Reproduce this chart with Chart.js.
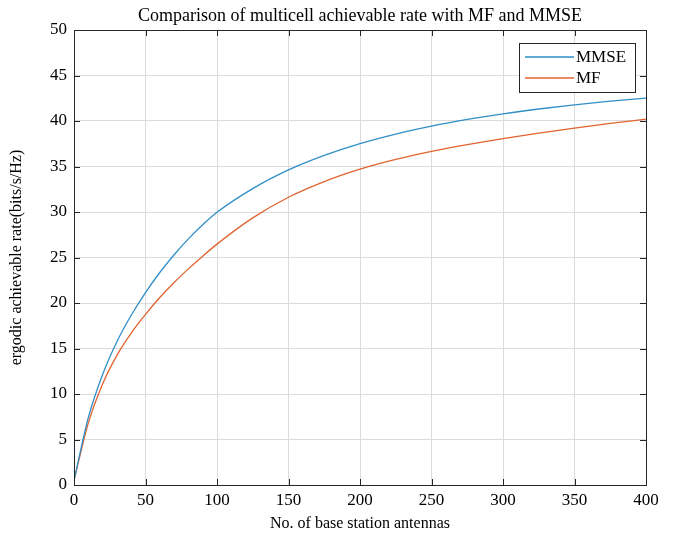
<!DOCTYPE html>
<html>
<head>
<meta charset="utf-8">
<script src="https://cdn.jsdelivr.net/npm/chart.js@4/dist/chart.umd.min.js"></script>
<style>
  html, body { margin: 0; padding: 0; background: #fff; }
  #wrap { width: 673px; height: 535px; }
</style>
</head>
<body>
<div id="wrap"><canvas id="chart" width="673" height="535"></canvas></div>
<script>
// datos
const antenas = [0, 10, 20, 30, 40, 50, 60, 70, 80, 90, 100, 125, 150, 175, 200, 225, 250, 275, 300, 325, 350, 375, 400]
const tasaMMSE = [0.5, 7.4, 12.15, 15.75, 18.65, 21.15, 23.35, 25.3, 27.05, 28.6, 29.97, 32.57, 34.62, 36.22, 37.52, 38.57, 39.44, 40.17, 40.79, 41.32, 41.78, 42.18, 42.52]
const tasaMF = [0.5, 6.8, 11.1, 14.25, 16.7, 18.75, 20.6, 22.25, 23.75, 25.15, 26.47, 29.35, 31.62, 33.34, 34.7, 35.77, 36.65, 37.4, 38.06, 38.66, 39.21, 39.73, 40.2]
const ticksX = [0, 50, 100, 150, 200, 250, 300, 350, 400]
const ticksY = [0, 5, 10, 15, 20, 25, 30, 35, 40, 45, 50]
const titulo = "Comparison of multicell achievable rate with MF and MMSE"

const fuente = "'Liberation Serif', 'Times New Roman', serif"

function puntos(xs, ys) {
    return xs.map((x, i) => ({ x: x, y: ys[i] }))
}

// marco, ticks hacia dentro, titulo y leyenda estilo MATLAB
const estiloMatlab = {
    id: 'estiloMatlab',
    afterDraw(chart) {
        const ctx = chart.ctx
        const a = chart.chartArea
        const sx = chart.scales.x
        const sy = chart.scales.y
        ctx.save()
        ctx.strokeStyle = '#262626'
        ctx.lineWidth = 1
        ctx.strokeRect(a.left + 0.5, a.top + 0.5, a.right - a.left, a.bottom - a.top)
        ctx.beginPath()
        ticksX.forEach((v) => {
            const px = Math.round(sx.getPixelForValue(v)) + 0.5
            ctx.moveTo(px, a.bottom); ctx.lineTo(px, a.bottom - 6)
            ctx.moveTo(px, a.top); ctx.lineTo(px, a.top + 6)
        })
        ticksY.forEach((v) => {
            const py = Math.round(sy.getPixelForValue(v)) + 0.5
            ctx.moveTo(a.left, py); ctx.lineTo(a.left + 6, py)
            ctx.moveTo(a.right, py); ctx.lineTo(a.right - 6, py)
        })
        ctx.stroke()

        // titulo
        ctx.fillStyle = '#000'
        ctx.font = "18px " + fuente
        ctx.textAlign = 'center'
        ctx.textBaseline = 'alphabetic'
        ctx.fillText(titulo, (a.left + a.right) / 2, 21)

        // leyenda
        const lx = 519, ly = 43, lw = 116, lh = 49
        ctx.fillStyle = '#fff'
        ctx.fillRect(lx, ly, lw, lh)
        ctx.strokeStyle = '#262626'
        ctx.strokeRect(lx + 0.5, ly + 0.5, lw, lh)
        ctx.font = "17px " + fuente
        ctx.textAlign = 'left'
        ctx.textBaseline = 'middle'
        chart.data.datasets.forEach((ds, i) => {
            const yy = ly + 14 + i * 21
            ctx.strokeStyle = ds.borderColor
            ctx.lineWidth = 1.3
            ctx.beginPath()
            ctx.moveTo(lx + 6, yy); ctx.lineTo(lx + 55, yy)
            ctx.stroke()
            ctx.fillStyle = '#000'
            ctx.fillText(ds.label, lx + 57, yy + 1)
        })
        ctx.restore()
    }
}

const config = {
    type: 'line',
    data: {
        datasets: [{
            label: "MMSE",
            data: puntos(antenas, tasaMMSE),
            borderColor: "#2f8fc6",
            borderWidth: 1.3,
            pointRadius: 0,
            cubicInterpolationMode: 'monotone'
        }, {
            label: "MF",
            data: puntos(antenas, tasaMF),
            borderColor: "#e0642e",
            borderWidth: 1.3,
            pointRadius: 0,
            cubicInterpolationMode: 'monotone'
        }]
    },
    options: {
        responsive: false,
        animation: false,
        layout: { padding: { left: 0, right: 27, top: 30, bottom: 0 } },
        plugins: {
            legend: { display: false },
            title: { display: false },
            tooltip: { enabled: false }
        },
        scales: {
            x: {
                type: 'linear',
                min: 0,
                max: 400,
                afterBuildTicks: (s) => { s.ticks = ticksX.map(v => ({ value: v })) },
                afterFit: (s) => { s.height = 50 },
                grid: { color: '#dcdcdc', drawTicks: false },
                border: { display: false },
                ticks: { color: '#000', padding: 5, maxRotation: 0, font: { family: fuente, size: 17 } },
                title: { display: true, text: "No. of base station antennas", color: '#000', padding: { top: 0, bottom: 2 }, font: { family: fuente, size: 16 } }
            },
            y: {
                min: 0,
                max: 50,
                afterBuildTicks: (s) => { s.ticks = ticksY.map(v => ({ value: v })) },
                afterFit: (s) => { s.width = 74 },
                grid: { color: '#dcdcdc', drawTicks: false },
                border: { display: false },
                ticks: { color: '#000', padding: 7, font: { family: fuente, size: 17 } },
                title: { display: true, text: "ergodic achievable rate(bits/s/Hz)", color: '#000', padding: { top: 7, bottom: 0 }, font: { family: fuente, size: 16 } }
            }
        }
    },
    plugins: [estiloMatlab]
}

const chartDOM = document.getElementById("chart")
const chartInstance = new Chart(chartDOM, config)
</script>
</body>
</html>
